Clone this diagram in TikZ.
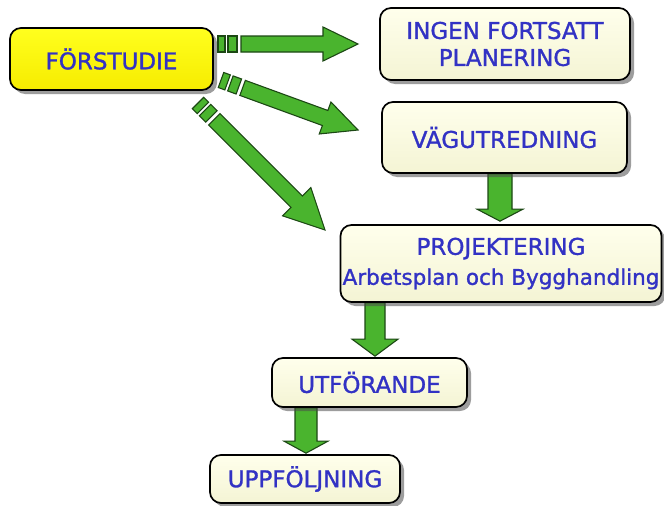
\documentclass[tikz,border=0pt]{standalone}
\usepackage{fontspec}
\setmainfont{DejaVu Sans}
\newfontfamily\lblfont[FakeBold=1.3]{DejaVu Sans}
\usetikzlibrary{calc,shadows}
\pgfdeclarelayer{bg}
\pgfsetlayers{bg,main}
\definecolor{txtblue}{RGB}{50,50,196}
\definecolor{arrgreen}{RGB}{74,180,46}
\definecolor{arrline}{RGB}{28,72,20}
\definecolor{cream}{RGB}{255,255,236}
\definecolor{creamdark}{RGB}{244,244,212}
\definecolor{yel}{RGB}{255,255,30}
\definecolor{yeldark}{RGB}{246,236,0}
\tikzset{
  box/.style={draw=black, line width=1.7pt, rounded corners=11pt,
    top color=cream, bottom color=creamdark, text=txtblue,
    font=\lblfont\fontsize{23}{27}\selectfont, align=center, inner sep=0pt,
    drop shadow={shadow xshift=4pt, shadow yshift=-4pt, fill=black!70, opacity=0.55}},
  ylbox/.style={box, top color=yel, bottom color=yeldark},
  arr/.style={draw=arrline, line width=1.1pt, fill=arrgreen, line join=miter},
}
% from, to, shaft half width, head half width, head length
\newcommand\blockarr[5]{%
  \coordinate (hn) at ($(#2)!#5pt!(#1)$);
  \draw[arr] ($(#1)!#3pt!90:(#2)$) -- ($(hn)!#3pt!90:(#2)$) -- ($(hn)!#4pt!90:(#2)$)
    -- (#2) -- ($(hn)!#4pt!-90:(#2)$) -- ($(hn)!#3pt!-90:(#2)$) -- ($(#1)!#3pt!-90:(#2)$) -- cycle;}
\newcommand\blockseg[3]{%
  \draw[arr] ($(#1)!#3pt!90:(#2)$) -- ($(#2)!#3pt!-90:(#1)$) -- ($(#2)!#3pt!90:(#1)$) -- ($(#1)!#3pt!-90:(#2)$) -- cycle;}
\newcommand\dashedarr[5]{%
  \coordinate (da) at ($(#1)!7pt!(#2)$);
  \coordinate (db) at ($(#1)!10pt!(#2)$);
  \coordinate (dc) at ($(#1)!19pt!(#2)$);
  \coordinate (dd) at ($(#1)!23pt!(#2)$);
  \blockseg{#1}{da}{#3}\blockseg{db}{dc}{#3}\blockarr{dd}{#2}{#3}{#4}{#5}}
\begin{document}
\begin{tikzpicture}[x=1pt,y=-1pt]
\useasboundingbox (0,0) rectangle (664,506);
\node[ylbox, minimum width=203pt, minimum height=62pt] (fs) at (111.5,59) {FÖRSTUDIE};
\node[box, minimum width=250pt, minimum height=72pt] (ingen) at (505,44) {INGEN FORTSATT\\PLANERING};
\node[box, minimum width=245pt, minimum height=71pt] (vag) at (504.5,137.5) {VÄGUTREDNING};
\node[box, minimum width=321pt, minimum height=77pt] (proj) at (501,263.5) {PROJEKTERING\\[3pt]{\fontsize{21.5}{27}\selectfont Arbetsplan och Bygghandling}};
\node[box, minimum width=195pt, minimum height=49pt] (utf) at (369.5,382.5) {UTFÖRANDE};
\node[box, minimum width=190pt, minimum height=48pt] (upp) at (305,479) {UPPFÖLJNING};
\coordinate (s1) at (218,44);
\coordinate (t1) at (358,44);
\coordinate (s2) at (221,80);
\coordinate (t2) at (358,130);
\coordinate (s3) at (198,103);
\coordinate (t3) at (325,230);
\coordinate (a4s) at ($(vag.south)+(-4.5,0)$);
\coordinate (a4t) at ($(proj.north)+(-1,-3)$);
\coordinate (a5s) at ($(proj.south)+(-126,0)$);
\coordinate (a5t) at ($(utf.north)+(5.5,-1)$);
\coordinate (a6s) at ($(utf.south)+(-63.5,0)$);
\coordinate (a6t) at ($(upp.north)+(1,-1)$);
\begin{pgfonlayer}{bg}
\dashedarr{s1}{t1}{8}{17}{35}
\dashedarr{s2}{t2}{8}{17}{35}
\dashedarr{s3}{t3}{8}{20}{40}
\blockarr{a4s}{a4t}{12}{23}{12}
\blockarr{a5s}{a5t}{10}{23}{17}
\blockarr{a6s}{a6t}{11}{22}{12}
\end{pgfonlayer}
\end{tikzpicture}
\end{document}
